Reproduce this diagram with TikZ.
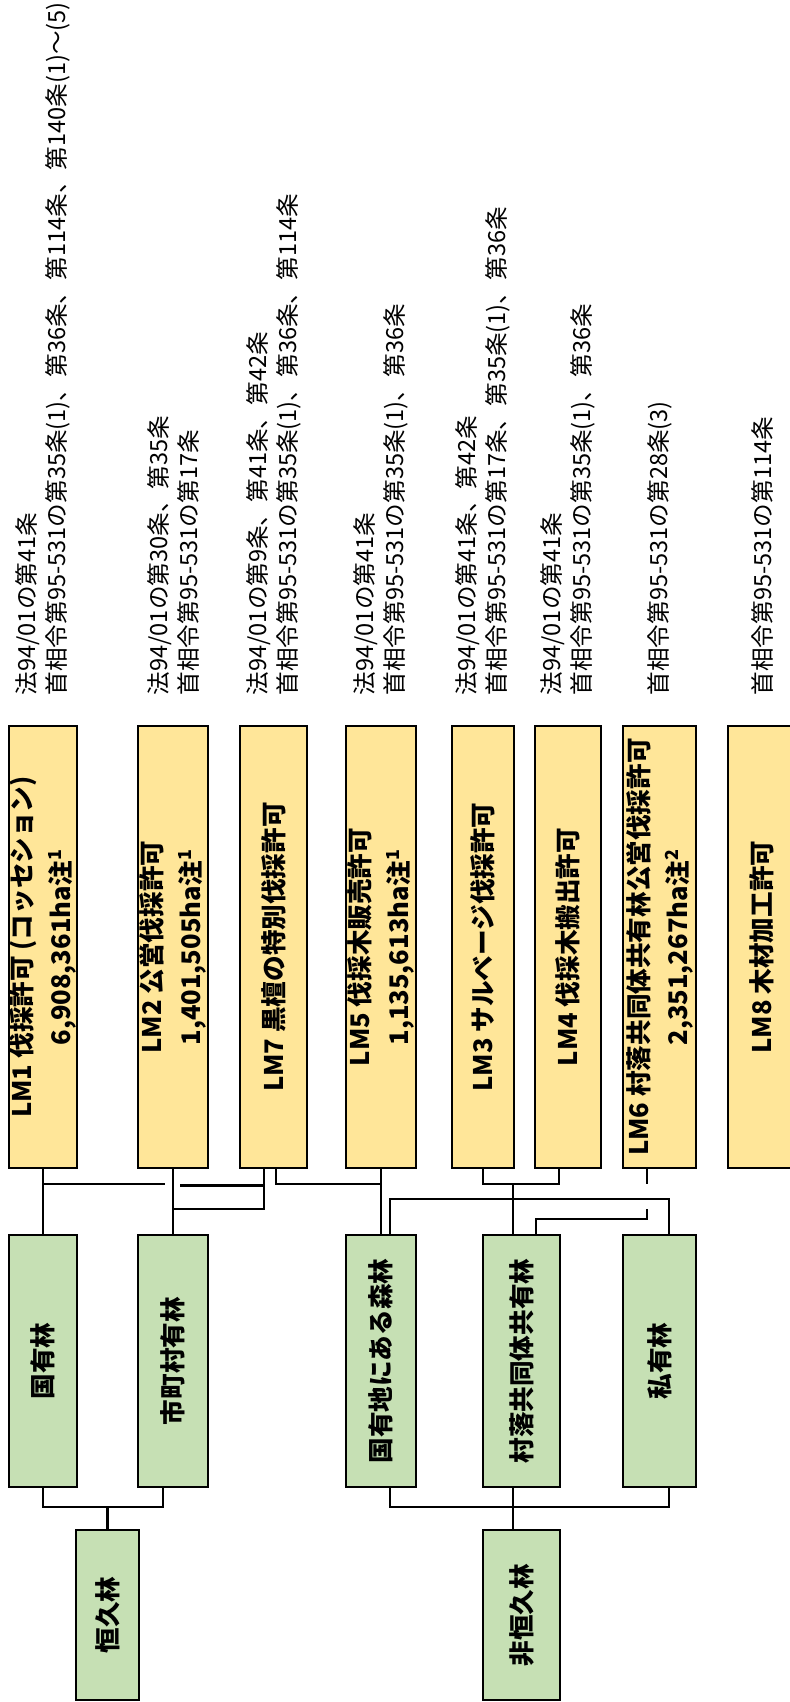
\documentclass[tikz,border=0pt]{standalone}
\usepackage{fontspec}
\newfontfamily\jp{Noto Sans CJK JP}
\definecolor{lmyellow}{HTML}{FFE699}
\definecolor{forestgreen}{HTML}{C6E0B4}
\begin{document}
\begin{tikzpicture}[x=0.5pt, y=-0.5pt,
		lmbox/.style={draw, line width=1.4pt, fill=lmyellow, rotate=90, minimum width=221pt, inner sep=0pt, align=center, font=\jp\bfseries\fontsize{12.8}{19.5}\selectfont},
		forest/.style={draw, line width=1.4pt, fill=forestgreen, rotate=90, minimum width=126pt, inner sep=0pt, font=\jp\bfseries\fontsize{12.8}{15}\selectfont},
		kind/.style={forest, minimum width=85pt},
		law/.style={rotate=90, anchor=west, inner sep=0pt, align=left, font=\jp\fontsize{11.8}{15}\selectfont},
		conn/.style={line width=1.2pt}]
		\useasboundingbox (0,0) rectangle (789,1702);
		% permit nodes
		\node[lmbox, minimum height=34pt] (LM1) at (43,947) {LM1 伐採許可 (コッセション)\\6,908,361ha注\textsuperscript{1}};
		\node[lmbox, minimum height=35pt] (LM2) at (173,947) {LM2 公営伐採許可\\1,401,505ha注\textsuperscript{1}};
		\node[lmbox, minimum height=33.5pt] (LM7) at (273.5,947) {LM7 黒檀の特別伐採許可};
		\node[lmbox, minimum height=35pt] (LM5) at (381,947) {LM5 伐採木販売許可\\1,135,613ha注\textsuperscript{1}};
		\node[lmbox, minimum height=31pt] (LM3) at (483,947) {LM3 サルベージ伐採許可};
		\node[lmbox, minimum height=33pt] (LM4) at (568,947) {LM4 伐採木搬出許可};
		\node[lmbox, minimum height=36.5pt] (LM6) at (659.5,947) {LM6 村落共同体共有林公営伐採許可\\2,351,267ha注\textsuperscript{2}};
		\node[lmbox, minimum height=34pt] (LM8) at (762,947) {LM8 木材加工許可};
		% law texts
		\node[law] (T1) at ([yshift=14.5pt]LM1.east) {法94/01の第41条\\首相令第95-531の第35条(1)、第36条、第114条、第140条(1)～(5)};
		\node[law] (T2) at ([yshift=14.5pt]LM2.east) {法94/01の第30条、第35条\\首相令第95-531の第17条};
		\node[law] (T7) at ([yshift=14.5pt]LM7.east) {法94/01の第9条、第41条、第42条\\首相令第95-531の第35条(1)、第36条、第114条};
		\node[law] (T5) at ([yshift=14.5pt]LM5.east) {法94/01の第41条\\首相令第95-531の第35条(1)、第36条};
		\node[law] (T3) at ([yshift=14.5pt]LM3.east) {法94/01の第41条、第42条\\首相令第95-531の第17条、第35条(1)、第36条};
		\node[law] (T4) at ([yshift=14.5pt]LM4.east) {法94/01の第41条\\首相令第95-531の第35条(1)、第36条};
		\node[law] (T6) at ([yshift=14.5pt]LM6.east) {首相令第95-531の第28条(3)};
		\node[law] (T8) at ([yshift=14.5pt]LM8.east) {首相令第95-531の第114条};
		% forest nodes
		\node[forest, minimum height=34pt] (F1) at (43,1361) {国有林};
		\node[forest, minimum height=35pt] (F2) at (173,1361) {市町村有林};
		\node[forest, minimum height=35pt] (F3) at (381,1361) {国有地にある森林};
		\node[forest, minimum height=38.5pt] (F4) at (521.5,1361) {村落共同体共有林};
		\node[forest, minimum height=36.5pt] (F5) at (659.5,1361) {私有林};
		\node[kind, minimum height=31.5pt] (K1) at (107.5,1615) {恒久林};
		\node[kind, minimum height=38.5pt] (K2) at (521.5,1615) {非恒久林};
		% bus levels and connector ends
		\coordinate (busA) at (0,1184);
		\coordinate (busB) at (0,1209);
		\coordinate (busC) at (0,1199);
		\coordinate (busD) at (0,1219);
		\coordinate (busE) at (0,1507);
		\coordinate (LM7a) at ([xshift=-4.75pt]LM7.west);
		\coordinate (LM7b) at ([xshift=1.25pt]LM7.west);
		\coordinate (LM4a) at ([xshift=-4.5pt]LM4.west);
		\coordinate (LM6a) at ([xshift=-6.25pt]LM6.west);
		\coordinate (F2a) at ([xshift=-5pt]F2.west);
		\coordinate (F3a) at ([xshift=4.5pt]F3.east);
		\coordinate (F3b) at ([xshift=4.5pt]F3.west);
		\coordinate (F4a) at ([xshift=-4.25pt]F4.east);
		\coordinate (F4b) at ([xshift=7.25pt]F4.east);
		\coordinate (F4c) at ([xshift=-4.25pt]F4.west);
		\coordinate (F5a) at ([xshift=4.75pt]F5.east);
		\coordinate (F5b) at ([xshift=4.75pt]F5.west);
		\coordinate (K2a) at ([xshift=-4.25pt]K2.east);
		% permit to forest connections
		\draw[conn] (LM1.west) -- (F1.east);
		\draw[conn] (LM1.west |- busA) -- ++(122,0);
		\draw[conn] (LM7a) |- ++(-84,16);
		\draw[conn] (LM2.west) -- (F2.east);
		\draw[conn] (LM7a |- busA) |- (LM2.west |- busB);
		\draw[conn] (LM7b) |- (LM5.west |- busA);
		\draw[conn] (LM5.west) -- (F3.east);
		\draw[conn] (LM3.west) |- (LM4a |- busA) -- (LM4a);
		\draw[conn] (F4a |- busA) -- (F4a);
		\draw[conn] (F3a) |- (F5a |- busC) -- (F5a);
		\draw[conn] (LM6a) -- (LM6a |- busA);
		\draw[conn] (LM6a |- busB) |- (F4b |- busD) -- (F4b);
		% forest to kind connections
		\draw[conn] (F1.west) |- (F2a |- busE) -- (F2a);
		\draw[conn] (K1.east) -- (K1.east |- busE);
		\draw[conn] (F3b) |- (F5b |- busE) -- (F5b);
		\draw[conn] (F4c) -- (K2a);
	\end{tikzpicture}
\end{document}
